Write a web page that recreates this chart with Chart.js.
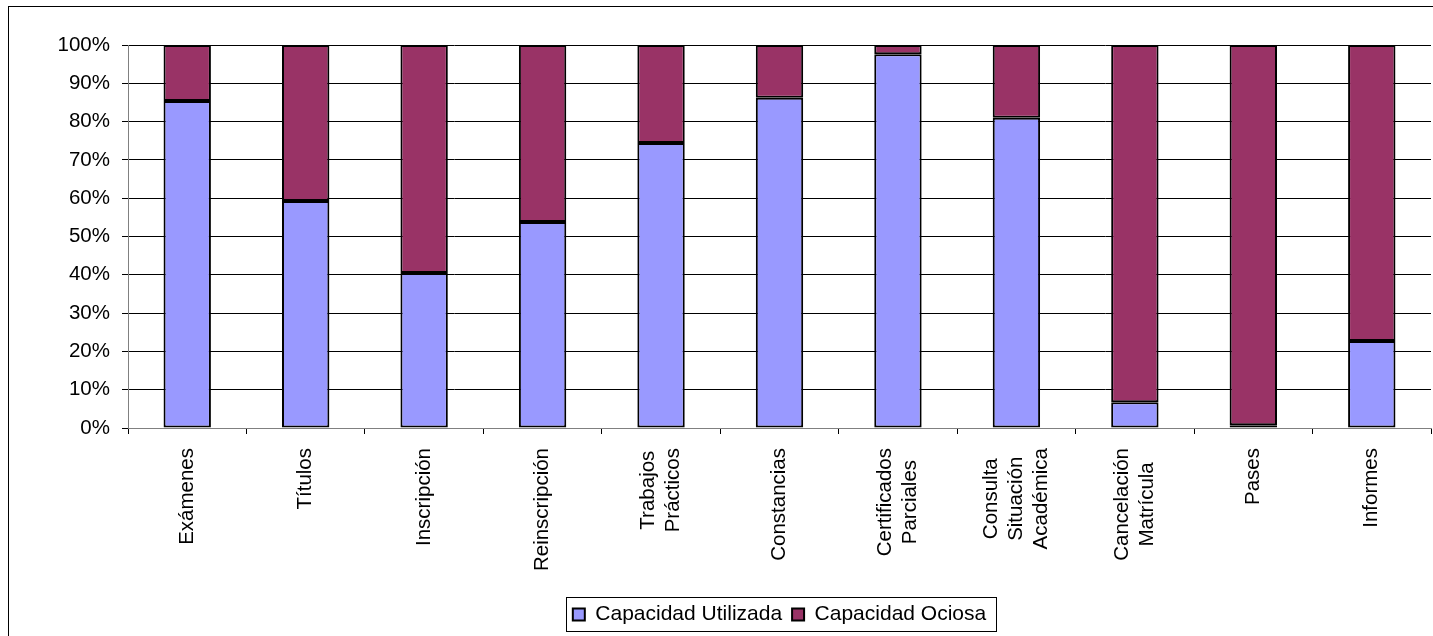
<!DOCTYPE html>
<html>
<head>
<meta charset="utf-8">
<script src="https://cdn.jsdelivr.net/npm/chart.js@4/dist/chart.umd.min.js"></script>
<style>
  html, body { margin: 0; padding: 0; background: #fff; overflow: hidden; }
  #wrap { position: relative; width: 1433px; height: 636px; }
  #frame { position: absolute; left: 8px; top: 6px; width: 1500px; height: 700px; border-left: 1px solid #000; border-top: 1px solid #000; box-sizing: border-box; }
  canvas { position: absolute; left: 0; top: 0; }
</style>
</head>
<body>
<div id="wrap">
  <div id="frame"></div>
  <canvas id="c" width="1433" height="636"></canvas>
</div>
<script>
const categories = [
  'Exámenes',
  'Títulos',
  'Inscripción',
  'Reinscripción',
  ['Trabajos', 'Prácticos'],
  'Constancias',
  ['Certificados', 'Parciales'],
  ['Consulta', 'Situación', 'Académica'],
  ['Cancelación', 'Matrícula'],
  'Pases',
  'Informes'
];
const capacidadUtilizada = [85.4, 59.3, 40.5, 53.8, 74.4, 86.2, 97.6, 81.0, 6.7, 0.7, 22.7];
const capacidadOciosa = [14.6, 40.7, 59.5, 46.2, 25.6, 13.8, 2.4, 19.0, 93.3, 99.3, 77.3];
const yTicks = [0, 10, 20, 30, 40, 50, 60, 70, 80, 90, 100];
const seriesNames = ['Capacidad Utilizada', 'Capacidad Ociosa'];

const FAMILY = 'Arial, "Liberation Sans", sans-serif';
const FONT = { family: FAMILY, size: 20.5 };
const LEGEND_FONT = { family: FAMILY, size: 21 };

// Draws the rotated, centred category labels under the x scale
const categoryLabels = {
  id: 'categoryLabels',
  afterDraw(chart) {
    const xs = chart.scales.x;
    const ctx = chart.ctx;
    ctx.save();
    ctx.font = FONT.size + 'px ' + FAMILY;
    ctx.fillStyle = '#000';
    ctx.textAlign = 'center';
    ctx.textBaseline = 'middle';
    const lh = 25;
    const top = xs.top + 20;
    categories.forEach((cat, i) => {
      const lines = Array.isArray(cat) ? cat : [cat];
      const maxW = Math.max(...lines.map(s => ctx.measureText(s).width));
      const cy = top + maxW / 2;
      const px = xs.getPixelForTick(i);
      lines.forEach((line, j) => {
        const x = px + (j - (lines.length - 1) / 2) * lh;
        ctx.save();
        ctx.translate(x, cy);
        ctx.rotate(-Math.PI / 2);
        ctx.fillText(line, 0, 0);
        ctx.restore();
      });
    });
    ctx.restore();
  }
};

// Shifts the legend to centre it under the plot area, and frames it
const legendFrame = {
  id: 'legendFrame',
  afterLayout(chart) {
    const lg = chart.legend;
    if (!lg) return;
    const ca = chart.chartArea;
    const shift = (ca.left + ca.right) / 2 - (lg.left + lg.right) / 2;
    lg.left += shift;
    lg.right += shift;
  },
  afterDraw(chart) {
    const lg = chart.legend;
    if (!lg || !lg.legendHitBoxes || !lg.legendHitBoxes.length) return;
    const boxes = lg.legendHitBoxes;
    const first = boxes[0], last = boxes[boxes.length - 1];
    const ctx = chart.ctx;
    ctx.save();
    ctx.strokeStyle = '#000';
    ctx.lineWidth = 1;
    const l = Math.round(first.left - 7) + 0.5;
    const r = Math.round(last.left + last.width + 10) + 0.5;
    const t = Math.round(first.top - 7) + 0.5;
    const b = Math.round(first.top + first.height + 6) + 0.5;
    ctx.strokeRect(l, t, r - l, b - t);
    ctx.restore();
  }
};

new Chart(document.getElementById('c'), {
  type: 'bar',
  data: {
    labels: categories,
    datasets: [
      { label: seriesNames[0], data: capacidadUtilizada, backgroundColor: '#9999FF', borderColor: '#000', borderWidth: 2, borderSkipped: false, barPercentage: 0.4, categoryPercentage: 1 },
      { label: seriesNames[1], data: capacidadOciosa, backgroundColor: '#993366', borderColor: '#000', borderWidth: 2, borderSkipped: false, barPercentage: 0.4, categoryPercentage: 1 }
    ]
  },
  options: {
    responsive: false,
    animation: false,
    devicePixelRatio: 1,
    layout: { padding: { top: 45, left: 0, right: 2, bottom: 1 } },
    plugins: {
      tooltip: { enabled: false },
      legend: {
        position: 'bottom',
        labels: {
          color: '#000',
          font: LEGEND_FONT,
          boxWidth: 12,
          boxHeight: 12,
          padding: 10
        }
      }
    },
    scales: {
      x: {
        stacked: true,
        grid: { display: true, drawOnChartArea: false, drawTicks: true, tickLength: 6, color: '#000', offset: true },
        border: { display: true, color: '#808080', width: 1 },
        ticks: { display: false, autoSkip: false },
        afterFit(scale) { scale.height = 166; }
      },
      y: {
        stacked: true,
        min: 0,
        max: 100,
        afterBuildTicks(scale) { scale.ticks = yTicks.map(v => ({ value: v })); },
        grid: { color: '#000', lineWidth: 1, tickLength: 6, drawTicks: true },
        border: { display: true, color: '#808080', width: 1 },
        ticks: { color: '#000', font: FONT, padding: 12, callback: v => v + '%' },
        afterFit(scale) { scale.width = 128; }
      }
    }
  },
  plugins: [categoryLabels, legendFrame]
});
</script>
</body>
</html>
